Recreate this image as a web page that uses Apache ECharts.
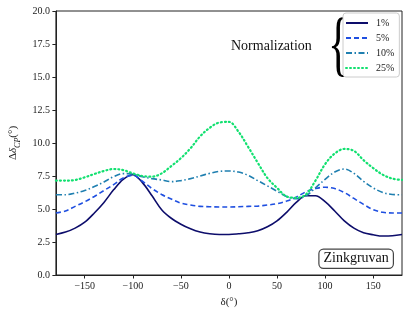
<!DOCTYPE html>
<html><head><meta charset="utf-8">
<script src="https://cdn.jsdelivr.net/npm/echarts@6/dist/echarts.min.js"></script>
<style>html,body{margin:0;padding:0;background:#fff}#c{width:409px;height:313px}</style>
</head><body><div id="c"></div>
<script>
const deltas = [-180,-170,-160,-150,-140,-130,-120,-110,-100,-90,-80,-70,-60,-50,-40,-30,-20,-10,0,10,20,30,40,50,60,70,80,90,100,110,120,130,140,150,160,170,180];
const seriesNames = ['1%','5%','10%','25%'];
const norm1 = [3.07,3.25,3.55,4.0,4.7,5.5,6.45,7.25,7.6,7.0,6.0,4.95,4.3,3.85,3.5,3.25,3.12,3.07,3.07,3.12,3.2,3.35,3.65,4.1,4.75,5.5,6.0,6.0,5.55,4.85,4.1,3.55,3.2,3.05,2.95,2.97,3.07];
const norm5 = [4.7,4.85,5.2,5.55,5.95,6.4,6.85,7.35,7.55,7.1,6.55,6.1,5.75,5.45,5.3,5.2,5.17,5.15,5.15,5.17,5.2,5.22,5.3,5.4,5.6,5.9,6.3,6.55,6.65,6.55,6.25,5.8,5.35,4.95,4.75,4.7,4.7];
const norm10 = [6.08,6.08,6.2,6.4,6.7,7.05,7.45,7.68,7.65,7.45,7.3,7.2,7.07,7.15,7.3,7.5,7.7,7.85,7.88,7.8,7.55,7.15,6.75,6.35,5.95,5.78,6.0,6.6,7.25,7.8,8.03,7.7,7.1,6.6,6.25,6.1,6.08];
const norm25 = [7.15,7.15,7.2,7.4,7.65,7.88,8.03,7.95,7.7,7.5,7.45,7.7,8.25,8.85,9.6,10.5,11.15,11.55,11.6,10.85,9.7,8.5,7.35,6.6,5.95,5.85,6.1,7.15,8.4,9.2,9.55,9.4,8.7,8.1,7.6,7.3,7.2];
const xTicks = [-150,-100,-50,0,50,100,150];
const yTicks = [0,2.5,5,7.5,10,12.5,15,17.5,20];

const serif = 'Liberation Serif';
const colors = ['#0d0d6b','#1f4fe0','#1f7fb0','#12e070'];
const dashes = ['solid',[5,3],[6,2.5,1.5,2.5],[1,3]];
const widths = [1.6,1.6,1.6,2.2];
const allData = [norm1,norm5,norm10,norm25];

const chart = echarts.init(document.getElementById('c'), null, {renderer:'canvas'});
chart.setOption({
  animation:false,
  backgroundColor:'#fff',
  grid:{left:45,right:7,top:11,bottom:37,show:true,borderColor:'#222',borderWidth:1,containLabel:false},
  xAxis:{type:'value',min:-180,max:180,
    name:'δ(°)',nameLocation:'middle',nameGap:22,
    nameTextStyle:{fontFamily:serif,fontSize:11,color:'#222'},
    axisLine:{show:true,onZero:false,lineStyle:{color:'#222',width:1}},
    axisTick:{show:true,length:3.5,lineStyle:{color:'#222'},customValues:xTicks},
    axisLabel:{fontFamily:serif,fontSize:10,color:'#222',margin:6,customValues:xTicks,
      formatter:v=>String(v).replace('-','−')},
    splitLine:{show:false}},
  yAxis:{type:'value',min:0,max:20,interval:2.5,
    name:'{a|Δ}{i|δ}{s|CP}{a|(°)}',nameLocation:'middle',nameGap:31,nameRotate:90,
    nameTextStyle:{fontFamily:serif,fontSize:11,color:'#222',
      rich:{a:{fontFamily:serif,fontSize:11,color:'#222',lineHeight:16,verticalAlign:'middle'},
            i:{fontFamily:serif,fontSize:11,fontStyle:'italic',color:'#222',lineHeight:16,verticalAlign:'middle'},
            s:{fontFamily:serif,fontSize:8,fontStyle:'italic',color:'#222',lineHeight:16,verticalAlign:'bottom',padding:[5,0,0,0]}}},
    axisLine:{show:true,onZero:false,lineStyle:{color:'#222',width:1}},
    axisTick:{show:true,length:3.5,lineStyle:{color:'#222'}},
    axisLabel:{fontFamily:serif,fontSize:10,color:'#222',margin:6,formatter:v=>v.toFixed(1)},
    splitLine:{show:false}},
  legend:{orient:'vertical',left:343,top:13,
    data:seriesNames,itemWidth:22,itemHeight:8,itemGap:5,
    padding:[5,5,4,2],
    borderColor:'#ccc',borderWidth:1,borderRadius:3,backgroundColor:'#fff',
    itemStyle:{color:'rgba(0,0,0,0)',borderWidth:0,opacity:0},
    textStyle:{fontFamily:serif,fontSize:10,color:'#222',padding:[0,0,0,3]}},
  graphic:[
    {type:'text',left:231,top:39,style:{text:'Normalization',fontFamily:serif,fontSize:14,fill:'#111'}},
    {type:'text',x:328,y:12,scaleX:0.6,style:{text:'{',fontFamily:serif,fontSize:72,fill:'#000'}},
    {type:'text',right:15,bottom:44,style:{text:'Zinkgruvan',fontFamily:serif,fontSize:14,fill:'#111',
      backgroundColor:'#fff',borderColor:'#444',borderWidth:1.2,borderRadius:4,padding:[2,4,2,4]}}
  ],
  series: allData.map((d,i)=>({
    name:seriesNames[i],type:'line',smooth:0.35,symbol:'none',
    data:deltas.map((x,j)=>[x,d[j]]),
    lineStyle:{color:colors[i],width:widths[i],type:dashes[i],cap:i===3?'round':'butt'},
    itemStyle:{color:colors[i]},
    z:2+i
  }))
});
</script></body></html>
